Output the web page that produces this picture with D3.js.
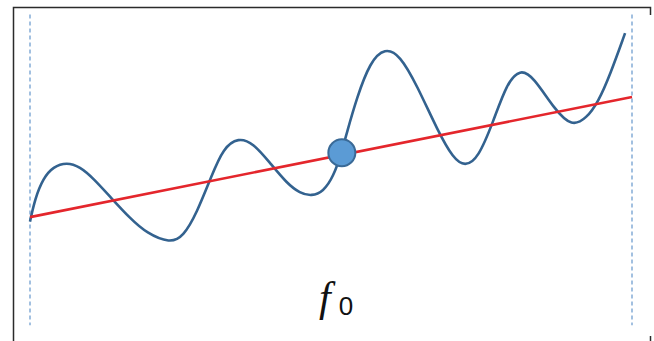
<!DOCTYPE html>
<html><head><meta charset="utf-8">
<script src="https://cdn.jsdelivr.net/npm/d3@7"></script>
<style>html,body{margin:0;padding:0;background:#fff;}svg{display:block;}</style>
</head><body>
<svg id="c" width="654" height="341"></svg>
<script>
// Data (abstract units)
const curveX = [0.00, 0.17, 0.44, 0.77, 1.22, 1.66, 2.10, 2.71, 3.32, 3.88, 4.65, 5.09, 5.54, 6.04, 6.42, 6.92, 7.42, 7.97, 8.53, 8.97, 9.36, 9.74, 10.08, 10.36, 10.52, 10.85, 11.30, 11.79, 12.29, 12.85, 13.56, 14.06, 14.45, 14.89, 15.39, 15.84, 16.28, 16.72, 17.44, 18.00, 18.49, 18.88, 19.27, 19.77];
const curveY = [2.80, 3.63, 4.35, 4.76, 4.92, 4.76, 4.35, 3.63, 2.92, 2.38, 2.03, 2.26, 3.10, 4.46, 5.42, 5.81, 5.60, 4.90, 4.17, 3.81, 3.71, 3.87, 4.40, 5.30, 5.95, 7.20, 8.51, 9.01, 8.75, 7.68, 6.01, 5.06, 4.76, 5.06, 6.37, 7.74, 8.25, 7.98, 6.79, 6.19, 6.49, 7.08, 8.04, 9.53];
const trendX = [0, 20];
const trendY = [2.96, 7.25];
const pointX = [10.36];
const pointY = [5.26];
const boundsX = [0, 20];
const label = "f";
const labelSub = "0";

const svg = d3.select("#c");
const x = d3.scaleLinear().domain([0, 20]).range([30, 632]);
const y = d3.scaleLinear().domain([0, 10]).range([300, 20]);

// frame
svg.append("path").attr("d", "M13.5,341 L13.5,7.5 L650.5,7.5 L650.5,15")
  .attr("fill", "none").attr("stroke", "#2b2b2b").attr("stroke-width", 1.5);
svg.append("line").attr("x1", 650.5).attr("x2", 650.5).attr("y1", 336).attr("y2", 341)
  .attr("stroke", "#2b2b2b").attr("stroke-width", 1.5);

// dashed bounds
svg.selectAll("line.b").data(boundsX).enter().append("line").attr("class", "b")
  .attr("x1", d => x(d)).attr("x2", d => x(d))
  .attr("y1", y(10.2)).attr("y2", y(-0.9))
  .attr("stroke", "#84acd6").attr("stroke-width", 1.5).attr("stroke-dasharray", "4,3");

// wavy curve
const cd = curveX.map((v, i) => [v, curveY[i]]);
svg.append("path").datum(cd)
  .attr("d", d3.line().x(d => x(d[0])).y(d => y(d[1])).curve(d3.curveBasis))
  .attr("fill", "none").attr("stroke", "#33628f").attr("stroke-width", 2.6);

// trend line
const td = trendX.map((v, i) => [v, trendY[i]]);
svg.append("path").datum(td)
  .attr("d", d3.line().x(d => x(d[0])).y(d => y(d[1])))
  .attr("fill", "none").attr("stroke", "#e4262c").attr("stroke-width", 2.6);

// point
svg.selectAll("circle").data(pointX).enter().append("circle")
  .attr("cx", d => x(d)).attr("cy", (d, i) => y(pointY[i])).attr("r", 13.5)
  .attr("fill", "#5b9bd5").attr("stroke", "#3a6a97").attr("stroke-width", 2);

// label
const t = svg.append("text").attr("x", 319).attr("y", 311)
  .attr("font-family", "'Liberation Serif', 'DejaVu Serif', serif").attr("fill", "#111");
t.append("tspan").attr("font-style", "italic").attr("font-size", 42).text(label);
t.append("tspan").attr("font-size", 26).attr("font-family", "'Liberation Sans', sans-serif").attr("dx", 8).attr("dy", 4).text(labelSub);
</script>
</body></html>
